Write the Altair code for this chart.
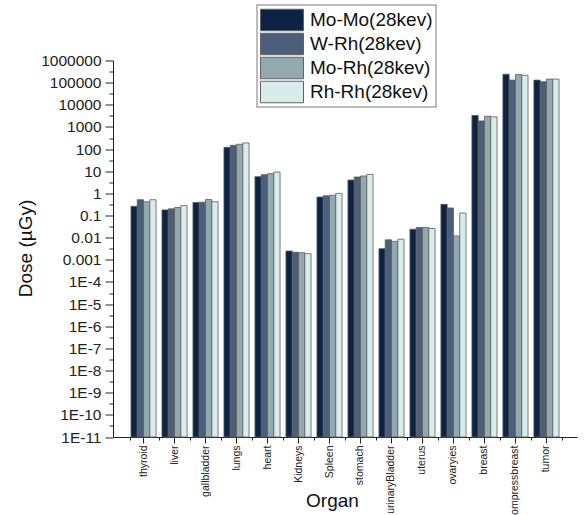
import altair as alt
import pandas as pd

# Organs on the x axis, in plotting order
organs = ["thyroid", "liver", "gallbladder", "lungs", "heart", "Kidneys", "Spleen",
          "stomach", "urinaryBladder", "uterus", "ovaryies", "breast",
          "ompressbreast", "tumor"]

# Target/filter combinations at 28 kev
series = ["Mo-Mo(28kev)", "W-Rh(28kev)", "Mo-Rh(28kev)", "Rh-Rh(28kev)"]

# Dose per organ (µGy), one list per target/filter combination
mo_mo = [0.26, 0.18, 0.39, 120, 5.7, 0.0025, 0.68, 4.0, 0.0032, 0.024, 0.32, 3300, 240000, 130000]
w_rh = [0.52, 0.20, 0.40, 148, 7.0, 0.0022, 0.78, 5.5, 0.0080, 0.029, 0.22, 1870, 130000, 110000]
mo_rh = [0.42, 0.23, 0.53, 165, 7.8, 0.0021, 0.83, 6.1, 0.0068, 0.029, 0.012, 3050, 235000, 145000]
rh_rh = [0.52, 0.28, 0.42, 190, 9.2, 0.0019, 1.0, 7.2, 0.0085, 0.026, 0.13, 2850, 213000, 145000]

colors = ["#0c2343", "#4b5f7a", "#93a9b0", "#d8ecec"]

# Axis ticks: labelled decades and unlabelled half-decade minor ticks
decades = [10.0 ** k for k in range(-11, 7)]
half_decades = [10.0 ** (k + 0.5) for k in range(-11, 6)]

rows = []
for name, vals in zip(series, [mo_mo, w_rh, mo_rh, rh_rh]):
    for organ, v in zip(organs, vals):
        rows.append({"Organ": organ, "Source": name, "Dose": v})
df = pd.DataFrame(rows)

FONT = "Liberation Sans"
y_scale = alt.Scale(type="log", domain=[1e-11, 1e6])
x_scale = alt.Scale(paddingInner=0.19, paddingOuter=0.58)

bars = alt.Chart(df).mark_bar(stroke="#5c5c5c", strokeWidth=0.8).encode(
    x=alt.X(
        "Organ:N",
        sort=organs,
        scale=x_scale,
        axis=alt.Axis(
            title="Organ",
            titleFont=FONT, titleFontSize=19, titleFontWeight="normal", titleColor="#111",
            titleX=219, titleY=63, titleAlign="center", titleBaseline="middle",
            labelAngle=270, labelFont=FONT, labelFontSize=10.5, labelColor="#222",
            labelPadding=2, labelLimit=200,
            tickSize=6, tickColor="#222", domainColor="#222",
        ),
    ),
    xOffset=alt.XOffset("Source:N", sort=series,
                        scale=alt.Scale(paddingInner=0, paddingOuter=0)),
    y=alt.Y(
        "Dose:Q",
        scale=y_scale,
        axis=alt.Axis(
            title="Dose (µGy)", orient="left",
            titleFont=FONT, titleFontSize=19, titleFontWeight="normal", titleColor="#111",
            titleX=-88, titleY=187.5, titleAngle=270, titleAlign="center",
            titleBaseline="middle",
            values=decades,
            labelExpr="datum.value >= 0.001 ? format(datum.value, '') : '1E' + round(log(datum.value) / LN10)",
            labelFont=FONT, labelFontSize=15.5, labelColor="#222", labelPadding=4,
            tickSize=8, tickColor="#222", domainColor="#222", grid=False,
        ),
    ),
    y2=alt.datum(1e-11),
    color=alt.Color(
        "Source:N", sort=series,
        scale=alt.Scale(domain=series, range=colors),
        legend=alt.Legend(
            title=None, orient="none", legendX=144, legendY=-55.5,
            symbolType="M-1,-0.5H1V0.5H-1Z", symbolSize=1849,
            symbolStrokeColor="#616161", symbolStrokeWidth=1, symbolOpacity=1,
            labelFont=FONT, labelFontSize=19, labelColor="#111", labelOffset=6,
            labelLimit=300, clipHeight=24, rowPadding=0, padding=3,
            strokeColor="#a6a6a6", fillColor="white",
        ),
    ),
)

# Invisible layer carrying the minor ticks: half decades on y, group gaps on x
minor = alt.Chart(df).mark_point(opacity=0).encode(
    x=alt.X(
        "Organ:N",
        sort=organs,
        scale=x_scale,
        axis=alt.Axis(
            title=None, orient="bottom", labels=False, domain=False, grid=False,
            tickSize=3, tickColor="#222", bandPosition=1.12, tickExtra=True,
        ),
    ),
    y=alt.Y(
        "Dose:Q",
        scale=y_scale,
        axis=alt.Axis(
            title=None, orient="left", values=half_decades, labels=False,
            tickSize=4, tickColor="#222", domain=False, grid=False,
        ),
    ),
)

chart = (
    alt.layer(bars, minor)
    .resolve_axis(x="independent", y="independent")
    .properties(
        width=464,
        height=376.5,
        autosize=alt.AutoSizeParams(type="none"),
        padding={"left": 113, "top": 60.5, "right": 7, "bottom": 78},
        background="white",
    )
    .configure_view(stroke=None)
    .configure_legend(strokeWidth=1.5)
)

chart.save("out.html", embed_options={"renderer": "svg", "actions": False})
